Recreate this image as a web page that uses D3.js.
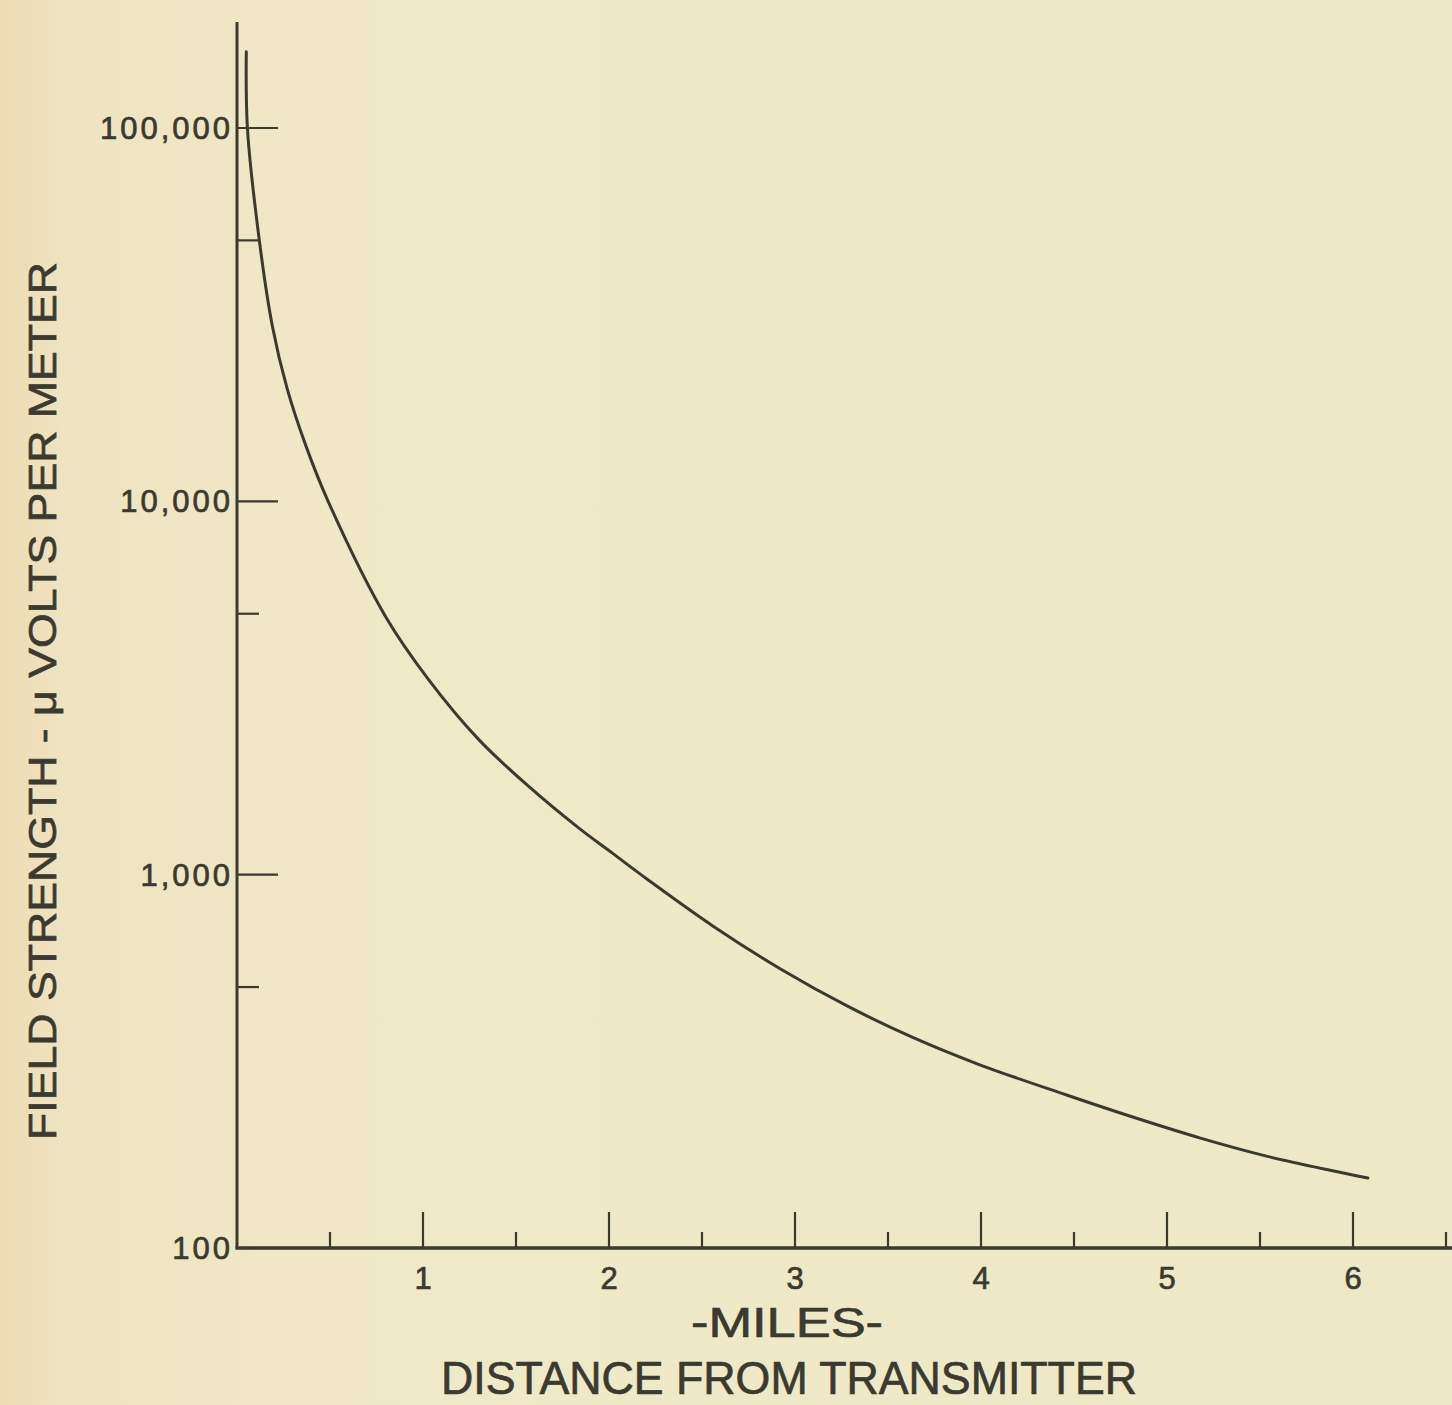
<!DOCTYPE html>
<html>
<head>
<meta charset="utf-8">
<script src="https://cdn.jsdelivr.net/npm/d3@7"></script>
<style>
  html, body { margin: 0; padding: 0; background: #efe8c6; }
  svg { display: block; }
  text { font-family: "Liberation Sans", Arial, sans-serif; fill: #3a3a30; stroke: #3a3a30; stroke-width: 0.7px; }
</style>
</head>
<body>
<div id="chart"></div>
<script>
// distance from transmitter (miles) and field strength (microvolts per meter)
const miles    = [0.05, 0.056, 0.12, 0.19, 0.27, 0.37, 0.49, 0.80, 1.03, 1.30, 1.57, 1.84, 2.02, 2.20, 2.56, 2.92, 3.28, 3.63, 3.99, 4.46, 4.82, 5.18, 5.54, 5.89, 6.08];
const strength = [160000, 100000, 50000, 29500, 20000, 14100, 10000, 4900, 3330, 2300, 1720, 1330, 1140, 977, 728, 560, 445, 367, 310, 257, 224, 197, 176, 161, 154];

const xMajorTicks = [1, 2, 3, 4, 5, 6];
const xMinorTicks = [0.5, 1.5, 2.5, 3.5, 4.5, 5.5, 6.5];
const yMajorTicks = [100, 1000, 10000, 100000];
const yMinorTicks = [500, 5000, 50000];
const yTickLabels = ['100', '1,000', '10,000', '100,000'];

const width = 1452, height = 1405;
const ink = '#3a3a30';

const svg = d3.select('#chart').append('svg')
  .attr('width', width)
  .attr('height', height);

// paper
const defs = svg.append('defs');
const grad = defs.append('linearGradient').attr('id', 'paper').attr('x1', 0).attr('x2', 1);
grad.append('stop').attr('offset', '0%').attr('stop-color', '#eedcb4');
grad.append('stop').attr('offset', '5%').attr('stop-color', '#efe4c2');
grad.append('stop').attr('offset', '30%').attr('stop-color', '#f0e9c8');
grad.append('stop').attr('offset', '100%').attr('stop-color', '#efe8c7');
svg.append('rect').attr('width', width).attr('height', height).attr('fill', 'url(#paper)');

const x = d3.scaleLinear().domain([0, 6]).range([237, 1353]);
const y = d3.scaleLog().domain([100, 100000]).range([1248, 128]);

const axisTop = 22;

// y axis: ticks point inward
const yAxis = svg.append('g').attr('transform', `translate(${x(0)},0)`);
yAxis.append('line')
  .attr('y1', y(100) + 1).attr('y2', axisTop)
  .attr('stroke', ink).attr('stroke-width', 3);
yAxis.selectAll('.ymaj').data(yMajorTicks.slice(1)).join('line')
  .attr('x1', 0).attr('x2', 41)
  .attr('y1', d => y(d)).attr('y2', d => y(d))
  .attr('stroke', ink).attr('stroke-width', 2.2);
yAxis.selectAll('.ymin').data(yMinorTicks).join('line')
  .attr('x1', 0).attr('x2', 22)
  .attr('y1', d => y(d)).attr('y2', d => y(d))
  .attr('stroke', ink).attr('stroke-width', 2.2);
yAxis.selectAll('text').data(yMajorTicks).join('text')
  .attr('x', -4)
  .attr('y', d => y(d))
  .attr('dy', '0.36em')
  .attr('text-anchor', 'end')
  .attr('font-size', 31)
  .attr('letter-spacing', 3)
  .text((d, i) => yTickLabels[i]);

// x axis: ticks point upward
const xAxis = svg.append('g').attr('transform', `translate(0,${y(100)})`);
xAxis.append('line')
  .attr('x1', x(0) - 1.5).attr('x2', width)
  .attr('stroke', ink).attr('stroke-width', 3.5);
xAxis.selectAll('.xmaj').data(xMajorTicks).join('line')
  .attr('x1', d => x(d)).attr('x2', d => x(d))
  .attr('y1', 0).attr('y2', -36)
  .attr('stroke', ink).attr('stroke-width', 2.2);
xAxis.selectAll('.xmin').data(xMinorTicks).join('line')
  .attr('x1', d => x(d)).attr('x2', d => x(d))
  .attr('y1', 0).attr('y2', -16)
  .attr('stroke', ink).attr('stroke-width', 2.2);
xAxis.selectAll('text').data(xMajorTicks).join('text')
  .attr('x', d => x(d))
  .attr('y', 41)
  .attr('text-anchor', 'middle')
  .attr('font-size', 31)
  .text(d => d);

// the curve
const points = miles.map((m, i) => [m, strength[i]]);
svg.append('path')
  .datum(points)
  .attr('fill', 'none')
  .attr('stroke', ink)
  .attr('stroke-width', 3)
  .attr('stroke-linecap', 'round')
  .attr('d', d3.line()
    .x(d => x(d[0]))
    .y(d => y(d[1]))
    .curve(d3.curveCatmullRom.alpha(0.5)));

// axis titles
svg.append('text')
  .attr('x', 787).attr('y', 1337)
  .attr('text-anchor', 'middle')
  .attr('font-size', 42)
  .attr('textLength', 192)
  .attr('lengthAdjust', 'spacingAndGlyphs')
  .text('-MILES-');

svg.append('text')
  .attr('x', 789).attr('y', 1394)
  .attr('text-anchor', 'middle')
  .attr('font-size', 46)
  .attr('textLength', 696)
  .attr('lengthAdjust', 'spacingAndGlyphs')
  .text('DISTANCE FROM TRANSMITTER');

svg.append('text')
  .attr('transform', 'translate(56,701) rotate(-90)')
  .attr('text-anchor', 'middle')
  .attr('font-size', 39)
  .attr('textLength', 878)
  .attr('lengthAdjust', 'spacingAndGlyphs')
  .text('FIELD STRENGTH - μ VOLTS PER METER');
</script>
</body>
</html>
